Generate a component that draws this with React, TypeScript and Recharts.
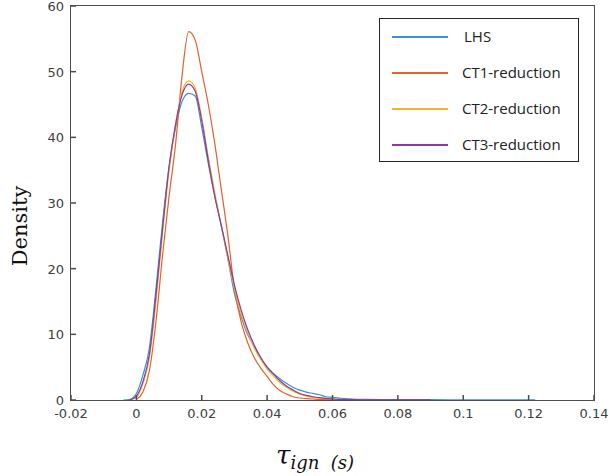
import { LineChart, Line, XAxis, YAxis, Legend } from 'recharts';

const X_VALUES = [
  -0.004, -0.002, 0, 0.002, 0.004, 0.006, 0.008, 0.01, 0.012, 0.014, 0.016, 0.018,
  0.02, 0.022, 0.024, 0.026, 0.028, 0.03, 0.032, 0.034, 0.036, 0.038, 0.04, 0.042,
  0.044, 0.046, 0.048, 0.05, 0.052, 0.054, 0.056, 0.058, 0.06, 0.062, 0.064, 0.066,
  0.07, 0.08, 0.09, 0.1, 0.11, 0.122,
];

const LHS = [
  0, 0.1, 1.0, 3.8, 8, 17, 27, 35.5, 41.5, 45.5, 46.7, 46.3,
  41.5, 36, 31, 26.5, 21.5, 16.2, 12.8, 10, 8.2, 6.4, 5, 4,
  3.2, 2.5, 1.9, 1.5, 1.2, 1.0, 0.8, 0.5, 0.4, 0.3, 0.2, 0.15,
  0.1, 0.05, 0.05, 0.02, 0.02, 0.02,
];

const CT1 = [
  null, null, 0.1, 1.2, 4.5, 12, 22, 31, 39, 49.5, 56.1, 54.8,
  50, 45, 39, 32, 25, 17, 12, 8.8, 6.5, 4.9, 3.6, 2.3,
  1.4, 0.9, 0.5, 0.3, 0.2, 0.15, 0.1, 0.08, 0.05, 0.04, 0.03, 0.02,
  0.02, null, null, null, null, null,
];

const CT2 = [
  null, 0, 0.4, 2.5, 6.5, 15, 25.5, 35, 42, 47, 48.6, 47.5,
  43, 37, 31.5, 26.5, 21.5, 17, 13.2, 10.3, 8, 6.2, 4.7, 3.6,
  2.6, 1.9, 1.3, 0.9, 0.6, 0.4, 0.3, 0.2, 0.15, 0.1, 0.05, 0.04,
  0.03, null, null, null, null, null,
];

const CT3 = [
  null, 0, 0.6, 2.8, 7, 16, 26, 35.5, 42, 46.5, 48.1, 47,
  42.5, 36.5, 31, 26.5, 22, 17.5, 13.8, 10.8, 8.4, 6.5, 5, 3.9,
  2.9, 2.1, 1.5, 1.0, 0.7, 0.5, 0.35, 0.25, 0.15, 0.1, 0.08, 0.06,
  0.03, 0.03, 0.03, null, null, null,
];

const X_TICKS = [-0.02, 0, 0.02, 0.04, 0.06, 0.08, 0.1, 0.12, 0.14];
const Y_TICKS = [0, 10, 20, 30, 40, 50, 60];
const X_DOMAIN = [-0.02, 0.14];
const Y_DOMAIN = [0, 60];

const SERIES = [
  { key: 'lhs', name: 'LHS', color: '#3d8fd6' },
  { key: 'ct1', name: 'CT1-reduction', color: '#e2612c' },
  { key: 'ct2', name: 'CT2-reduction', color: '#f0b72a' },
  { key: 'ct3', name: 'CT3-reduction', color: '#8a3a9c' },
];

const data = X_VALUES.map((x, i) => ({
  x,
  lhs: LHS[i],
  ct1: CT1[i],
  ct2: CT2[i],
  ct3: CT3[i],
}));

const AXIS = '#4d4d4d';
const TEXT = '#404040';
const TICK_FONT = { fontFamily: 'DejaVu Sans', fontSize: 13, fill: TEXT };
const TICK_LINE = { stroke: AXIS, strokeWidth: 1.5 };

// plot box, same numbers as the chart margins (+1 for the axis strips)
const PLOT = { left: 71, top: 6, right: 594, bottom: 400 };

// tickSize -5 + tickMargin 5 puts x/y back on the axis line
const BottomTick = ({ x, y, payload }: any) => (
  <text x={x} y={y + 18} textAnchor="middle" {...TICK_FONT}>{String(payload.value)}</text>
);
const LeftTick = ({ x, y, payload }: any) => (
  <text x={x - 7} y={y + 5} textAnchor="end" {...TICK_FONT}>{String(payload.value)}</text>
);

const LegendBox = () => (
  <div style={{ width: 200, height: 144, boxSizing: 'border-box', border: '1px solid #262626', background: '#fff' }}>
    {SERIES.map((s, i) => (
      <div key={s.key} style={{ position: 'relative', height: 36 }}>
        <div style={{ position: 'absolute', left: 12, top: 17, width: 56, height: 1.5, background: s.color }} />
        <span style={{ position: 'absolute', left: i === 0 ? 84 : 82, top: 7, fontFamily: 'Open Sans', fontSize: 15, color: '#222', lineHeight: '20px' }}>
          {s.name}
        </span>
      </div>
    ))}
  </div>
);

export default function App() {
  return (
    <div style={{ position: 'absolute', left: 0, top: 0, width: 610, height: 476, background: '#fff' }}>
      <LineChart width={610} height={476} data={data} margin={{ top: 5, right: 15, bottom: 75, left: 70 }}>
        <XAxis dataKey="x" type="number" domain={X_DOMAIN} ticks={X_TICKS} interval={0}
          height={1} tickSize={-5} tickMargin={5} axisLine={false} tickLine={TICK_LINE} tick={<BottomTick />} />
        <XAxis xAxisId="top" orientation="top" type="number" domain={X_DOMAIN} ticks={X_TICKS} interval={0}
          height={1} tickSize={-5} axisLine={false} tickLine={TICK_LINE} tick={false} />
        <YAxis type="number" domain={Y_DOMAIN} ticks={Y_TICKS} interval={0}
          width={1} tickSize={-5} tickMargin={5} axisLine={false} tickLine={TICK_LINE} tick={<LeftTick />} />
        <YAxis yAxisId="right" orientation="right" type="number" domain={Y_DOMAIN} ticks={Y_TICKS} interval={0}
          width={1} tickSize={-5} axisLine={false} tickLine={TICK_LINE} tick={false} />
        <Legend layout="vertical" align="center" verticalAlign="middle" content={<LegendBox />}
          wrapperStyle={{ left: 379, top: 18, width: 200, height: 144 }} />
        {SERIES.map((s) => (
          <Line key={s.key} type="monotone" dataKey={s.key} name={s.name} stroke={s.color}
            strokeWidth={1.2} dot={false} isAnimationActive={false} />
        ))}
      </LineChart>
      <div style={{
        position: 'absolute', left: PLOT.left - 1, top: PLOT.top - 1,
        width: PLOT.right - PLOT.left + 2, height: PLOT.bottom - PLOT.top + 2,
        boxSizing: 'border-box', border: `1px solid ${AXIS}`, pointerEvents: 'none',
      }} />
      <div style={{ position: 'absolute', left: 20, top: 226, transform: 'translate(-50%, -50%) rotate(-90deg)', fontFamily: 'DejaVu Serif', fontSize: 21, color: '#111', whiteSpace: 'nowrap' }}>
        Density
      </div>
      <div style={{ position: 'absolute', left: 276, top: 440, fontFamily: 'DejaVu Serif', fontStyle: 'italic', color: '#111', whiteSpace: 'nowrap' }}>
        <span style={{ fontSize: 26 }}>τ</span>
        <span style={{ fontSize: 18, position: 'relative', top: 5 }}>ign&nbsp;&nbsp;(s)</span>
      </div>
    </div>
  );
}
